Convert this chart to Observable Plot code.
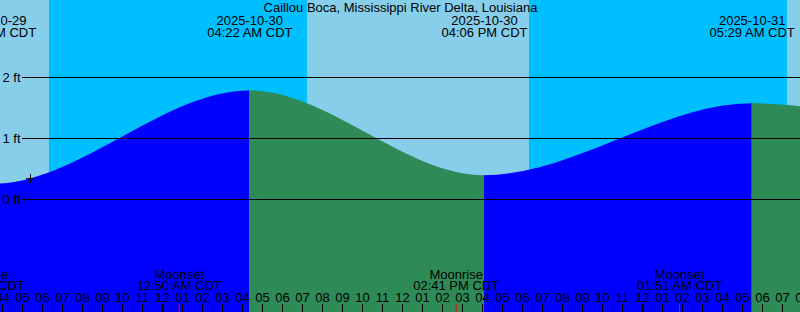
<!DOCTYPE html>
<html><head><meta charset="utf-8">
<script src="https://cdn.jsdelivr.net/npm/d3@7"></script>
<script src="https://cdn.jsdelivr.net/npm/@observablehq/plot@0.6"></script>
<style>html,body{margin:0;padding:0;background:#fff}svg{display:block}</style>
</head><body><div id="chart"></div>
<script>
// ---- data (times are local CDT) ----
const title = "Caillou Boca, Mississippi River Delta, Louisiana";
const xDomain = ["2025-10-29 15:54", "2025-10-31 07:54"];
const tideTimes = ["2025-10-29 15:32", "2025-10-30 04:22", "2025-10-30 16:06", "2025-10-31 05:29", "2025-10-31 17:30"];
const tideHeights = [0.25, 1.78, 0.39, 1.57, 1.10];
const sunsetTimes = ["2025-10-29 18:21", "2025-10-30 18:21"];
const sunriseTimes = ["2025-10-30 07:15", "2025-10-31 07:15"];
const moonEvents = ["Moonrise", "Moonset", "Moonrise", "Moonset"];
const moonTimes = ["2025-10-29 14:57", "2025-10-30 00:50", "2025-10-30 14:41", "2025-10-31 01:51"];
const gridFeet = [0, 1, 2];
const nowTime = ["2025-10-29 17:24"];
const nowHeight = [0.34];
const yDomain = [-1.8525, 3.2623];

// ---- helpers ----
const parse = d3.utcParse("%Y-%m-%d %H:%M");
const fmtDate = d3.utcFormat("%Y-%m-%d");
const fmtTime = d3.utcFormat("%I:%M %p CDT");
const fmtHour = d3.utcFormat("%I");

const tides = tideTimes.map((t, i) => ({t: parse(t), h: tideHeights[i]}));
const segRows = [];
for (let i = 0; i < tides.length - 1; i++) {
  const rising = tides[i + 1].h > tides[i].h;
  segRows.push({seg: i, rising, t: tides[i].t, h: tides[i].h});
  segRows.push({seg: i, rising, t: tides[i + 1].t, h: tides[i + 1].h});
}
const nights = sunsetTimes.map((s, i) => ({x1: parse(s), x2: parse(sunriseTimes[i])}));
const moons = moonEvents.map((e, i) => ({name: e, t: parse(moonTimes[i])}));
const x0 = parse(xDomain[0]), x1 = parse(xDomain[1]);
const hours = d3.utcHour.range(d3.utcHour.ceil(new Date(+x0 - 3600e3)), new Date(+x1 + 3600e3));
const now = nowTime.map((t, i) => ({t: parse(t), h: nowHeight[i]}));

// smooth tide curve: horizontal tangents at each extreme
class TideCurve {
  constructor(ctx) { this._context = ctx; }
  areaStart() { this._line = 0; }
  areaEnd() { this._line = NaN; }
  lineStart() { this._point = 0; }
  lineEnd() {
    if (this._line || (this._line !== 0 && this._point === 1)) this._context.closePath();
    this._line = 1 - this._line;
  }
  point(x, y) {
    x = +x; y = +y;
    if (this._point === 0) {
      this._point = 1;
      if (this._line) this._context.lineTo(x, y); else this._context.moveTo(x, y);
    } else {
      const dx = x - this._x0;
      this._context.bezierCurveTo(this._x0 + dx / 3, this._y0, this._x0 + 2 * dx / 3, y, x, y);
    }
    this._x0 = x; this._y0 = y;
  }
}
const tideCurve = (ctx) => new TideCurve(ctx);
const plusSymbol = {draw(ctx) { const r = 4.5; ctx.moveTo(-r, 0); ctx.lineTo(r, 0); ctx.moveTo(0, -r); ctx.lineTo(0, r); }};
const mid = {lineAnchor: "middle"};

const chart = Plot.plot({
  width: 800, height: 312,
  margin: 0,
  x: {type: "utc", domain: [x0, x1], axis: null},
  y: {domain: yDomain, axis: null},
  style: {fontFamily: "Liberation Sans, Arial, sans-serif", fontSize: "13px", background: "#87CEEB", color: "black"},
  marks: [
    Plot.rect(nights, {x1: "x1", x2: "x2", fill: "#00BFFF", clip: true}),
    Plot.areaY(segRows.filter(d => d.rising), {x: "t", y1: yDomain[0], y2: "h", z: "seg", fill: "#0000FF", curve: tideCurve, clip: true}),
    Plot.areaY(segRows.filter(d => !d.rising), {x: "t", y1: yDomain[0], y2: "h", z: "seg", fill: "#2E8B57", curve: tideCurve, clip: true}),
    Plot.ruleY(gridFeet, {y: d => d, stroke: "black", insetLeft: 22}),
    Plot.text(gridFeet, {...mid, y: d => d, text: d => `${d} ft`, frameAnchor: "left", textAnchor: "start", dx: 2}),
    Plot.text([title], {...mid, text: d => d, frameAnchor: "top", dy: 7}),
    Plot.text(tides, {...mid, x: "t", text: d => fmtDate(d.t), frameAnchor: "top", dy: 20, clip: true}),
    Plot.text(tides, {...mid, x: "t", text: d => fmtTime(d.t), frameAnchor: "top", dy: 32, clip: true}),
    Plot.dot(now, {x: "t", y: "h", symbol: plusSymbol, stroke: "black", fill: "none", strokeWidth: 1}),
    Plot.text(moons, {...mid, x: "t", text: "name", frameAnchor: "bottom", dy: -38, clip: true}),
    Plot.text(moons, {...mid, x: "t", text: d => fmtTime(d.t), frameAnchor: "bottom", dy: -27, clip: true}),
    Plot.text(hours, {...mid, x: d => d, text: d => fmtHour(d), frameAnchor: "bottom", dy: -15}),
    Plot.ruleX(hours.filter(d => d.getUTCHours() !== 0), {x: d => d, stroke: "black", insetTop: 304}),
    Plot.ruleX(hours.filter(d => d.getUTCHours() === 0), {x: d => d, stroke: "black", strokeWidth: 2, insetTop: 304}),
    Plot.ruleX(moons, {x: "t", stroke: "red", insetTop: 304})
  ]
});
document.getElementById("chart").appendChild(chart);
</script>
</body></html>
